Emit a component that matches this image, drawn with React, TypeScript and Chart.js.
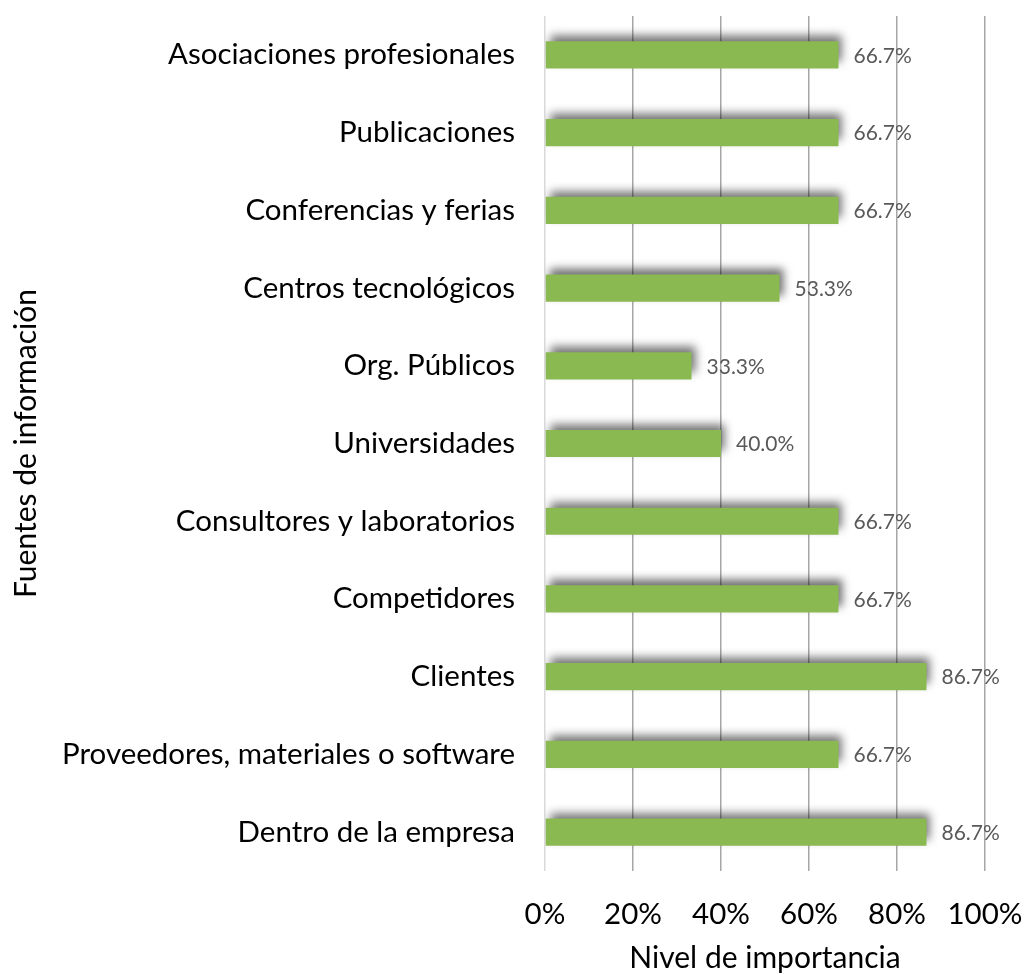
import React, { useEffect, useRef } from "react";
import { Chart, registerables } from "chart.js";

Chart.register(...registerables);

const categories: string[] = [
  "Asociaciones profesionales",
  "Publicaciones",
  "Conferencias y ferias",
  "Centros tecnológicos",
  "Org. Públicos",
  "Universidades",
  "Consultores y laboratorios",
  "Competidores",
  "Clientes",
  "Proveedores, materiales o software",
  "Dentro de la empresa",
];

const values: number[] = [66.7, 66.7, 66.7, 53.3, 33.3, 40.0, 66.7, 66.7, 86.7, 66.7, 86.7];

const xTicks: number[] = [0, 20, 40, 60, 80, 100];

const FONT = "Lato, 'Open Sans', sans-serif";

const shadowPlugin = {
  id: "barShadow",
  beforeDatasetDraw(chart: any) {
    const ctx = chart.ctx;
    ctx.save();
    ctx.shadowColor = "rgba(0,0,0,0.55)";
    ctx.shadowBlur = 9;
    ctx.shadowOffsetX = 4;
    ctx.shadowOffsetY = -6;
  },
  afterDatasetDraw(chart: any) {
    chart.ctx.restore();
  },
};

const labelPlugin = {
  id: "barLabels",
  afterDatasetsDraw(chart: any) {
    const ctx = chart.ctx;
    const meta = chart.getDatasetMeta(0);
    ctx.save();
    ctx.font = `21px ${FONT}`;
    ctx.fillStyle = "#595959";
    ctx.textAlign = "left";
    ctx.textBaseline = "middle";
    meta.data.forEach((bar: any, i: number) => {
      ctx.fillText(values[i].toFixed(1) + "%", bar.x + 15, bar.y + 1);
    });
    ctx.restore();
  },
};

export default function App() {
  const ref = useRef<HTMLCanvasElement | null>(null);
  useEffect(() => {
    if (!ref.current) return;
    const chart = new Chart(ref.current, {
      type: "bar",
      data: {
        labels: categories,
        datasets: [
          {
            data: values,
            backgroundColor: "#8ab951",
            borderWidth: 0,
            barPercentage: 0.35,
            categoryPercentage: 1,
          },
        ],
      },
      options: {
        indexAxis: "y",
        animation: false,
        responsive: false,
        devicePixelRatio: 1,
        layout: { padding: { top: 16, right: 39, left: 0, bottom: 0 } },
        plugins: { legend: { display: false }, tooltip: { enabled: false } },
        scales: {
          x: {
            min: 0,
            max: 100,
            afterBuildTicks(scale: any) {
              scale.ticks = xTicks.map((v) => ({ value: v }));
            },
            afterFit(scale: any) {
              scale.height = 103;
              scale.paddingLeft = 0;
              scale.paddingRight = 0;
            },
            grid: {
              color: (c: any) => (c.tick && c.tick.value === 0 ? "#d9d9d9" : "#a6a6a6"),
              lineWidth: 1.5,
              drawTicks: false,
            },
            border: { display: false },
            ticks: {
              color: "#000",
              font: { family: FONT, size: 29.5 },
              padding: 26,
              maxRotation: 0,
              callback: (v: any) => v + "%",
            },
            title: {
              display: true,
              text: "Nivel de importancia",
              color: "#000",
              font: { family: FONT, size: 30 },
              padding: { top: 0, bottom: -2 },
            },
          },
          y: {
            afterFit(scale: any) {
              scale.width = 545;
              scale.paddingTop = 0;
              scale.paddingBottom = 0;
            },
            grid: { display: false, drawTicks: false },
            border: { display: false },
            ticks: {
              color: "#000",
              font: { family: FONT, size: 29.5 },
              padding: 30,
            },
            title: {
              display: true,
              text: "Fuentes de información",
              color: "#000",
              font: { family: FONT, size: 30 },
              padding: { top: 8, bottom: 0 },
            },
          },
        },
      },
      plugins: [shadowPlugin, labelPlugin],
    });
    return () => chart.destroy();
  }, []);
  return (
    <div style={{ position: "fixed", left: 0, top: 0, width: 1024, height: 974, background: "#fff" }}>
      <canvas ref={ref} width={1024} height={974} style={{ width: 1024, height: 974 }} />
    </div>
  );
}
